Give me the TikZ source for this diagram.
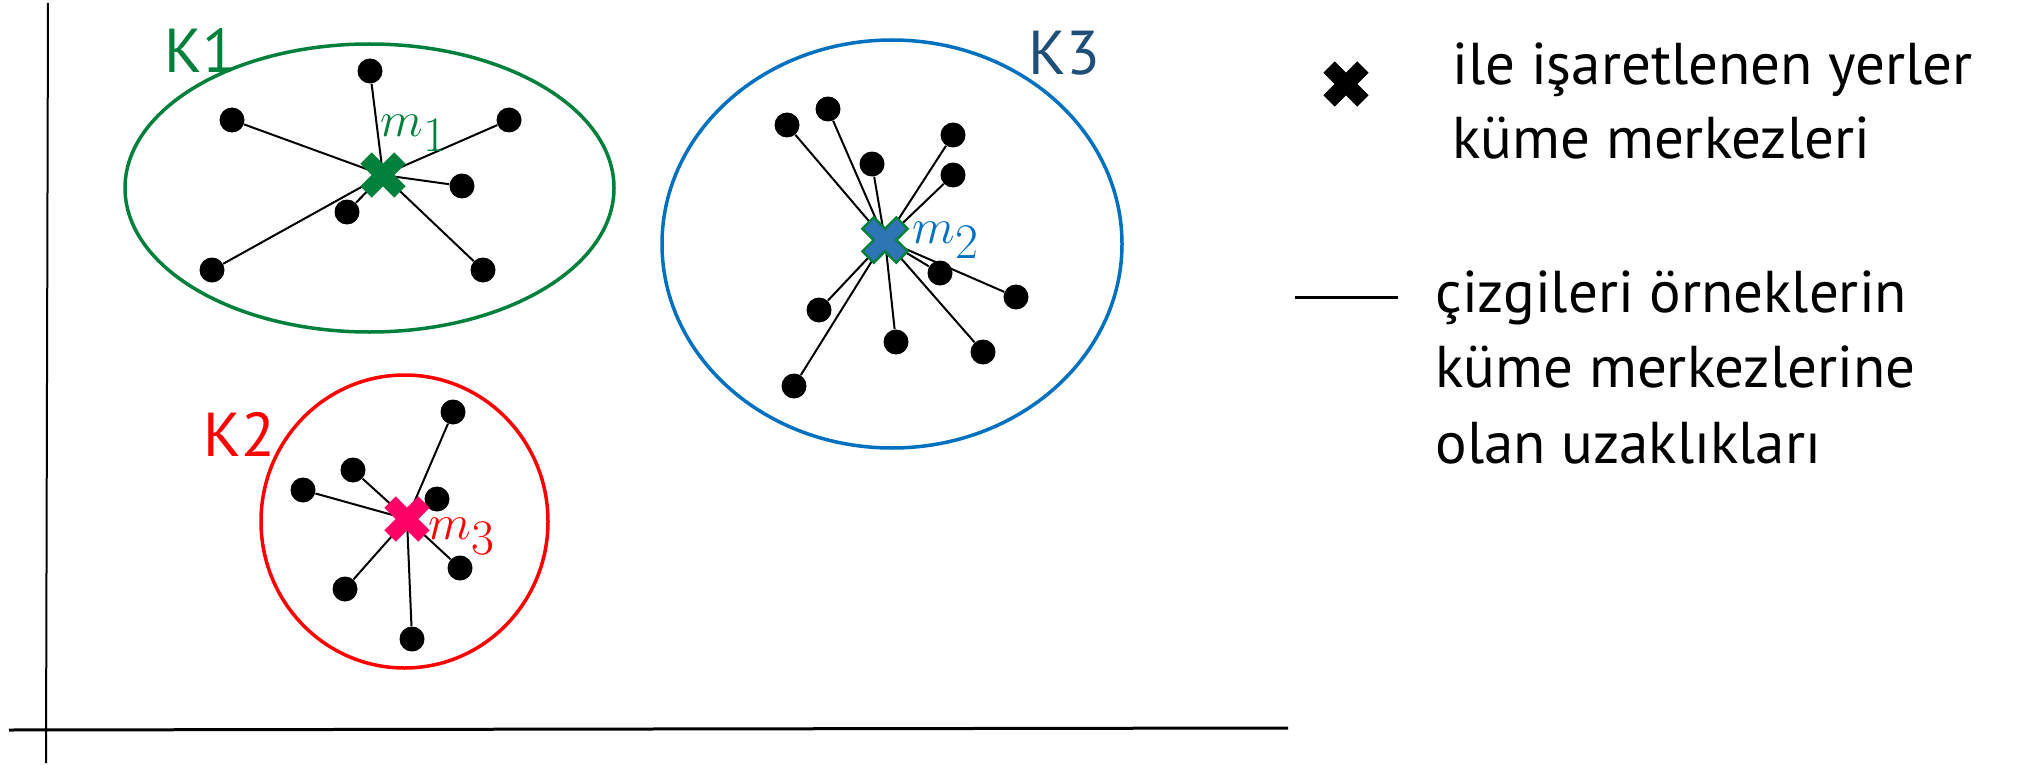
\documentclass[tikz,border=0pt]{standalone}
\usepackage{fontspec}
\setmainfont{PT Sans}
\usetikzlibrary{positioning}
\definecolor{kgreen}{RGB}{0,128,58}
\definecolor{kblue}{RGB}{0,112,192}
\definecolor{kdarkblue}{RGB}{31,78,121}
\definecolor{kred}{RGB}{255,0,0}
\definecolor{kpink}{RGB}{255,0,102}
\definecolor{kfill}{RGB}{46,117,182}
\tikzset{
  sample/.style={circle,fill=black,inner sep=0pt,minimum size=12.5pt},
  klabel/.style={font=\fontsize{31}{36}\selectfont,anchor=base west,inner sep=0pt},
  mlabel/.style={font=\fontsize{35}{40}\selectfont,inner sep=0pt},
  legend text/.style={font=\fontsize{29.5}{36}\selectfont,anchor=base west,inner sep=0pt},
  pics/centermark/.style={code={
    \path[pic actions,rotate=45] (-8,24)--(8,24)--(8,8)--(24,8)--(24,-8)--(8,-8)--(8,-24)
      --(-8,-24)--(-8,-8)--(-24,-8)--(-24,8)--(-8,8)--cycle;}}
}
\begin{document}
\begin{tikzpicture}[x=0.5pt,y=-0.5pt]
\useasboundingbox (0,0) rectangle (2018,765);
% axes
\coordinate (ytop) at (48,3);
\coordinate (ybot) at (46,763);
\coordinate (xleft) at (9,730);
\coordinate (xright) at (1288,728);
\draw[line width=1pt] (ytop) -- (ybot);
\draw[line width=1.5pt] (xleft) -- (xright);
% cluster borders
\draw[kgreen,line width=1.75pt] (369.5,188) ellipse [x radius=122.25pt,y radius=72pt];
\draw[kblue,line width=1.75pt] (892,244) ellipse [x radius=115pt,y radius=102pt];
\draw[kred,line width=1.75pt] (404.5,521.5) ellipse [x radius=71.75pt,y radius=73.25pt];
\node[klabel,text=kgreen] (k1) at (164,73) {K1};
\node[klabel,text=kred] (k2) at (203,456) {K2};
\node[klabel,text=kdarkblue] (k3) at (1028,75) {K3};
% centres
\coordinate (m1) at (383,175);
\coordinate (m2) at (885,240);
\coordinate (m3) at (407,519);
% samples of K1
\node[sample] (a1) at (370,71) {};
\node[sample] (a2) at (232,120) {};
\node[sample] (a3) at (509,120) {};
\node[sample] (a4) at (462,186) {};
\node[sample] (a5) at (347,212) {};
\node[sample] (a6) at (212,270) {};
\node[sample] (a7) at (483,270) {};
% samples of K3
\node[sample] (b1) at (787,125) {};
\node[sample] (b2) at (828,109) {};
\node[sample] (b3) at (953,135) {};
\node[sample] (b4) at (872,164) {};
\node[sample] (b5) at (953,175) {};
\node[sample] (b6) at (940,273) {};
\node[sample] (b7) at (1016,297) {};
\node[sample] (b8) at (819,310) {};
\node[sample] (b9) at (896,342) {};
\node[sample] (b10) at (983,352) {};
\node[sample] (b11) at (794,386) {};
% samples of K2
\node[sample] (c1) at (453,412) {};
\node[sample] (c2) at (353,470) {};
\node[sample] (c3) at (303,490) {};
\node[sample] (c4) at (437,499) {};
\node[sample] (c5) at (460,568) {};
\node[sample] (c6) at (345,589) {};
\node[sample] (c7) at (412,639) {};
% distances
\path[line width=1pt] (m1) edge (a1) edge (a2) edge (a3) edge (a4) edge (a5) edge (a6) edge (a7);
\path[line width=1pt] (m2) edge (b1) edge (b2) edge (b3) edge (b4) edge (b5) edge (b6)
  edge (b7) edge (b8) edge (b9) edge (b10) edge (b11);
\path[line width=1pt] (m3) edge (c1) edge (c2) edge (c3) edge (c5) edge (c6) edge (c7);
\pic[fill=kgreen] at (m1) {centermark};
\pic[fill=kfill,draw=kgreen,line width=1.2pt] at (m2) {centermark};
\pic[fill=kpink] at (m3) {centermark};
\node[mlabel,text=kgreen] (n1) at (414,133) {$m_1$};
\node[mlabel,text=kblue] (n2) at (946,240) {$m_2$};
\node[mlabel,text=kred] (n3) at (462,536) {$m_3$};
% legend
\pic[fill=black] at (1346,84) {centermark};
\node[legend text] (t1) at (1452,85) {ile işaretlenen yerler};
\node[legend text] (t2) at (1452,158) {küme merkezleri};
\coordinate (ls) at (1295,297);
\coordinate (le) at (1398,297);
\draw[line width=1.5pt] (ls) -- (le);
\node[legend text] (t3) at (1435,312) {çizgileri örneklerin};
\node[legend text] (t4) at (1435,387) {küme merkezlerine};
\node[legend text] (t5) at (1435,463) {olan uzaklıkları};
\end{tikzpicture}
\end{document}
